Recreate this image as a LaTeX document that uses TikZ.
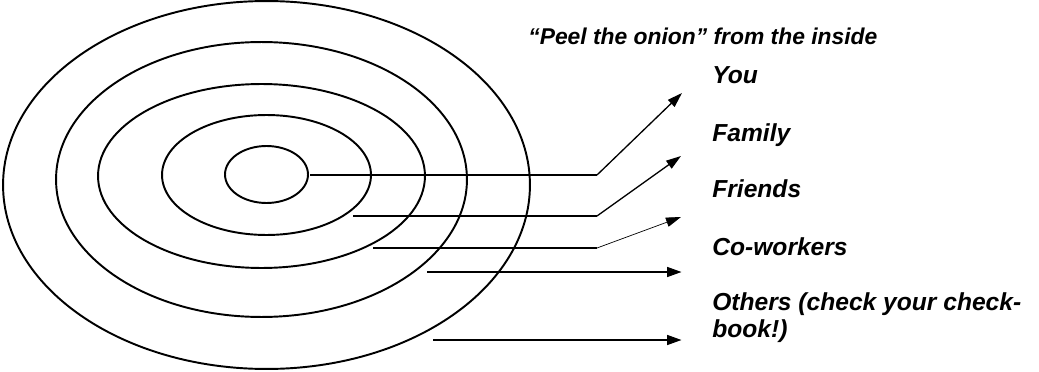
\documentclass[tikz,border=0pt]{standalone}
\usepackage{fontspec}
\setmainfont{Liberation Sans}
\usepackage{tikz}
\usetikzlibrary{arrows.meta}

\begin{document}
\begin{tikzpicture}[x=0.02cm, y=-0.02cm,
    ring/.style={line width=1.1pt},
    bar/.style={line width=1.7pt},
    tip/.style={-{Triangle[length=0.3cm,width=0.19cm]}},
    tag/.style={anchor=base west, inner sep=0pt, align=left,
        font=\fontsize{14}{15.3}\selectfont\bfseries\itshape}]
    \useasboundingbox (0,0) rectangle (1039,372);
    % the onion
    \draw[ring] (266.5,174.5) ellipse [x radius=0.83cm, y radius=0.57cm];
    \draw[ring] (266.5,175) ellipse [x radius=2.09cm, y radius=1.2cm];
    \draw[ring] (261.5,176) ellipse [x radius=3.27cm, y radius=1.84cm];
    \draw[ring] (261.5,179.5) ellipse [x radius=4.11cm, y radius=2.75cm];
    \draw[ring] (266.5,185) ellipse [x radius=5.27cm, y radius=3.68cm];

    \node[tag, font=\fontsize{13}{15}\selectfont\bfseries\itshape] (peel) at (528,44) {``Peel the onion'' from the inside};
    \node[tag] (you) at (712,83) {You};
    \node[tag] (family) at (712,141) {Family};
    \node[tag] (friends) at (712,197) {Friends};
    \node[tag] (cowork) at (712,255) {Co-workers};
    \node[tag] (others) at (712,337) {Others (check your check-\\book!)};

    \coordinate (you0) at (310,175);
    \coordinate (you1) at (597,175);
    \coordinate (you2) at (682,93);
    \coordinate (fam0) at (353,216);
    \coordinate (fam1) at (597,216);
    \coordinate (fam2) at (681,156);
    \coordinate (fri0) at (373,248);
    \coordinate (fri1) at (597,248);
    \coordinate (fri2) at (681,217);
    \coordinate (cow0) at (427,272);
    \coordinate (cow1) at (682,272);
    \coordinate (oth0) at (433,340);
    \coordinate (oth1) at (682,340);

    \draw[bar] (you0) -- (you1);
    \draw[tip, line width=0.75pt] (you1) -- (you2);
    \draw[bar] (fam0) -- (fam1);
    \draw[tip, line width=0.75pt] (fam1) -- (fam2);
    \draw[bar] (fri0) -- (fri1);
    \draw[tip, line width=0.4pt] (fri1) -- (fri2);
    \draw[bar, tip] (cow0) -- (cow1);
    \draw[bar, tip] (oth0) -- (oth1);
\end{tikzpicture}
\end{document}
